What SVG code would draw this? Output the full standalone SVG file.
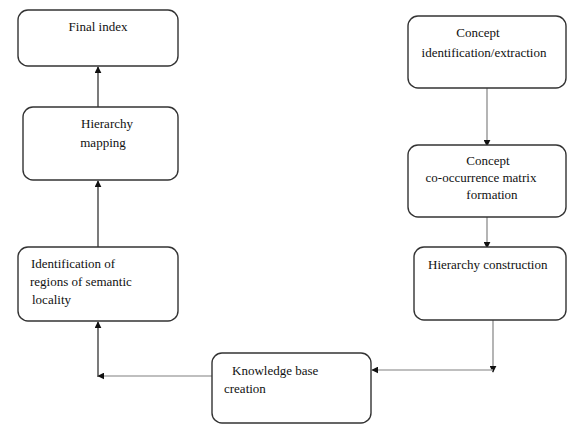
<svg xmlns="http://www.w3.org/2000/svg" width="568" height="425" viewBox="0 0 568 425">
<style>
.box{fill:#fff;stroke:#333;stroke-width:1.4}
text{font-family:"Liberation Serif","Times New Roman",serif;font-size:13px;fill:#111}
.c{text-anchor:middle}
.dk{stroke:#333;stroke-width:1.3;fill:none}
.lt{stroke:#777;stroke-width:1.1;fill:none}
.hz{stroke:#aaa;stroke-width:1.5;fill:none}
</style>
<defs>
<marker id="ah" viewBox="0 0 10 10" refX="9" refY="5" markerWidth="7" markerHeight="7" markerUnits="userSpaceOnUse" orient="auto"><path d="M0,0 L10,5 L0,10 z" fill="#111"/></marker>
</defs>
<rect width="568" height="425" fill="#fff"/>
<g id="connectors">
<line class="dk" x1="98" y1="107" x2="98" y2="67" marker-end="url(#ah)"/>
<line class="dk" x1="98" y1="247" x2="98" y2="181" marker-end="url(#ah)"/>
<line class="hz" x1="212" y1="376" x2="98" y2="376" marker-end="url(#ah)"/>
<line class="dk" x1="98" y1="377" x2="98" y2="322" marker-end="url(#ah)"/>
<line class="lt" x1="487" y1="88" x2="487" y2="146" marker-end="url(#ah)"/>
<line class="lt" x1="487" y1="190" x2="487" y2="248" marker-end="url(#ah)"/>
<line class="lt" x1="493" y1="320" x2="493" y2="372" marker-end="url(#ah)"/>
<line class="hz" x1="493" y1="370" x2="372" y2="370" marker-end="url(#ah)"/>
</g>
<g id="final-index">
<rect class="box" x="18" y="10" width="160" height="56" rx="10"/>
<text class="c" x="98" y="31">Final index</text>
</g>
<g id="hierarchy-mapping">
<rect class="box" x="23" y="107" width="155" height="73" rx="10"/>
<text class="c" x="107" y="128">Hierarchy</text>
<text class="c" x="103" y="147">mapping</text>
</g>
<g id="identification-regions">
<rect class="box" x="18" y="247" width="160" height="74" rx="10"/>
<text x="31" y="268">Identification of</text>
<text x="30" y="286">regions of semantic</text>
<text x="32" y="304">locality</text>
</g>
<g id="concept-extraction">
<rect class="box" x="408" y="16" width="158" height="72" rx="10"/>
<text class="c" x="478" y="37">Concept</text>
<text class="c" x="484" y="57">identification/extraction</text>
</g>
<g id="cooccurrence-matrix">
<rect class="box" x="408" y="145" width="158" height="72" rx="10"/>
<text class="c" x="488" y="165">Concept</text>
<text class="c" x="481" y="182">co-occurrence matrix</text>
<text class="c" x="492" y="199">formation</text>
</g>
<g id="hierarchy-construction">
<rect class="box" x="414" y="247" width="152" height="73" rx="10"/>
<text x="428" y="269">Hierarchy construction</text>
</g>
<g id="knowledge-base">
<rect class="box" x="212" y="353" width="159" height="70" rx="10"/>
<text x="232" y="375">Knowledge base</text>
<text x="224" y="393">creation</text>
</g>
</svg>
